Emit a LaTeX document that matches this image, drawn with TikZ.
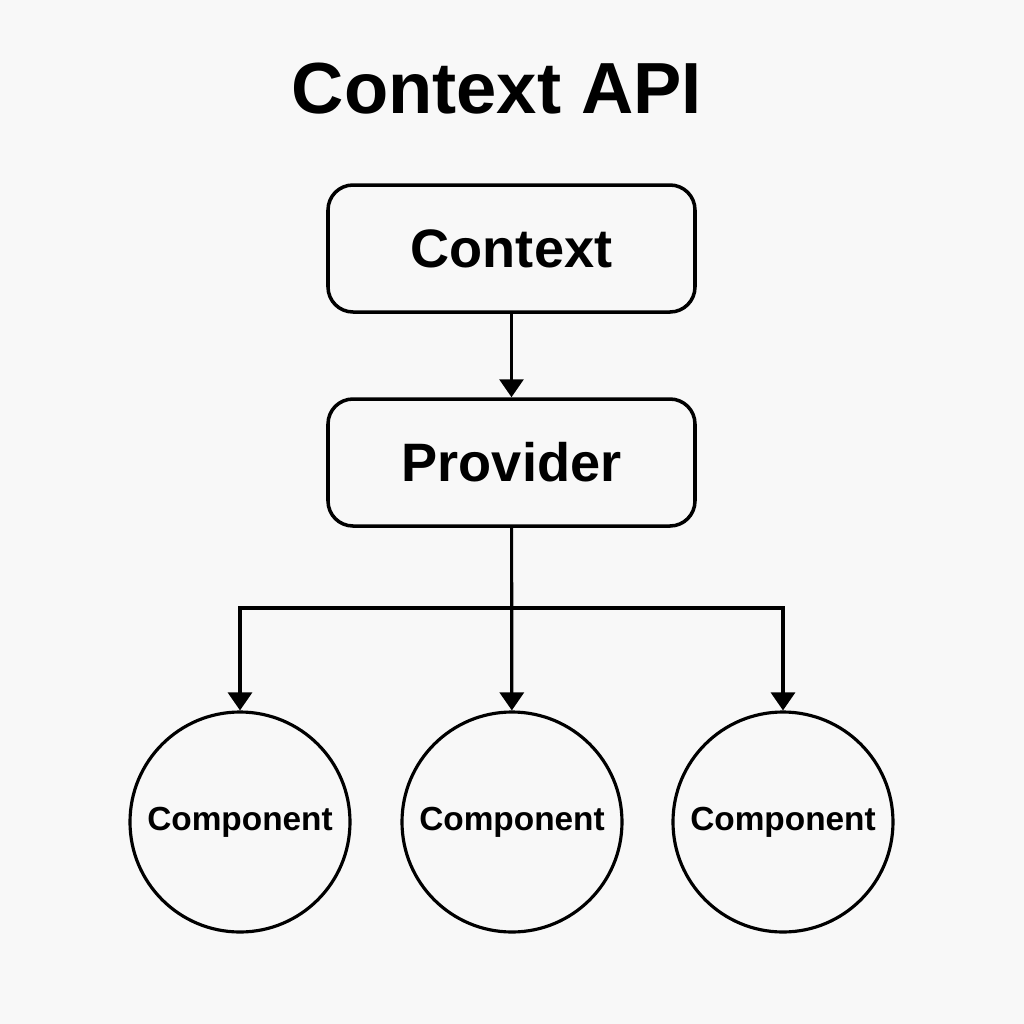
\documentclass[tikz,border=0pt]{standalone}
\usepackage{fontspec}
\setmainfont{Liberation Sans}
\usetikzlibrary{arrows.meta}
\definecolor{paper}{RGB}{248,248,248}
\begin{document}
\begin{tikzpicture}[
    box/.style={draw, line width=1pt, rounded corners=2.5mm, minimum width=3.67cm, minimum height=1.27cm,
                font=\fontsize{15.4}{18}\selectfont\bfseries},
    comp/.style={draw, line width=0.9pt, circle, minimum size=2.2cm, inner sep=0pt,
                 font=\fontsize{9.5}{11}\selectfont\bfseries},
    link/.style={line width=0.9pt, -{Triangle[width=2.4mm,length=1.8mm]}}]
      \fill[paper] (0, 0) rectangle (10.24, -10.24);
      \useasboundingbox (0, 0) rectangle (10.24, -10.24);
      \node (title) at (4.97, -0.89) {\fontsize{20.6}{24}\selectfont\bfseries Context API};
      \node[box] (ctx) at (5.115, -2.485) {Context};
      \node[box] (prov) at (5.115, -4.625) {Provider};
      \node[comp] (c1) at (2.40, -8.22) {Component};
      \node[comp] (c2) at (5.12, -8.22) {Component};
      \node[comp] (c3) at (7.83, -8.22) {Component};
      \coordinate (split) at (5.12, -6.08);
      \draw[link] (ctx) -- (prov);
      \draw[link] (prov) -- (c2);
      \draw[link] (split) -| (c1.north);
      \draw[link] (split) -| (c3.north);
\end{tikzpicture}
\end{document}
